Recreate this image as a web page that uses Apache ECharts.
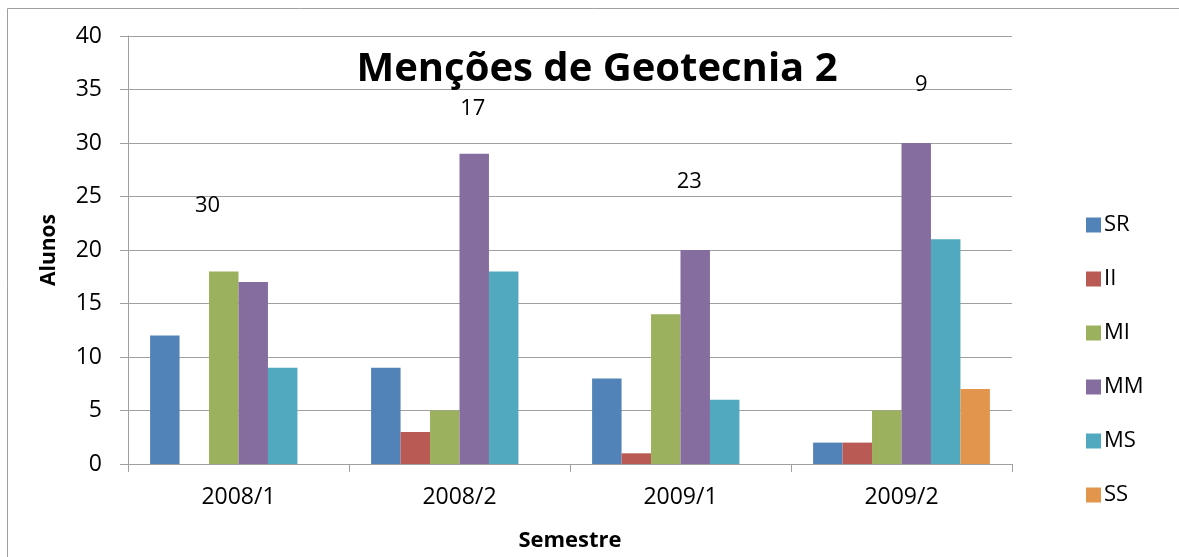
<!DOCTYPE html>
<html><head><meta charset="utf-8">
<script src="https://cdn.jsdelivr.net/npm/echarts@6/dist/echarts.min.js"></script>
<style>html,body{margin:0;padding:0;background:#fff}#c{width:1179px;height:557px}</style>
</head><body><div id="c"></div>
<script>
const categories = ['2008/1', '2008/2', '2009/1', '2009/2'];
const seriesNames = ['SR', 'II', 'MI', 'MM', 'MS', 'SS'];
const SR = [12, 9, 8, 2];
const II = [0, 3, 1, 2];
const MI = [18, 5, 14, 5];
const MM = [17, 29, 20, 30];
const MS = [9, 18, 6, 21];
const SS = [0, 0, 0, 7];
const colors = ['#5283B8', '#BA5A55', '#9BB15D', '#866D9F', '#51A9C0', '#E2964D'];
// floating annotation labels: [x position in category units, y value, text]
const noteX = [0.36, 1.56, 2.54, 3.59];
const noteY = [24.1, 33.2, 26.4, 35.4];
const noteText = ['30', '17', '23', '9'];
const yTicks = [0, 40, 5];

const FONT = '"Open Sans", sans-serif';
const values = [SR, II, MI, MM, MS, SS];
const chart = echarts.init(document.getElementById('c'), null, {renderer: 'canvas'});
const barSeries = seriesNames.map((n, i) => ({
  name: n, type: 'bar', data: values[i], barGap: '0%', barCategoryGap: '20%',
  itemStyle: {color: colors[i]}, xAxisIndex: 0, yAxisIndex: 0
}));
chart.setOption({
  animation: false,
  textStyle: {fontFamily: FONT},
  title: {
    text: 'Menções de Geotecnia 2', left: 592, top: 45, textAlign: 'center',
    textStyle: {fontFamily: FONT, fontWeight: 'bold', fontSize: 40, color: '#000'}
  },
  graphic: [
    {type: 'line', shape: {x1: 7.5, y1: 8.5, x2: 1179, y2: 8.5}, style: {stroke: '#A0A0A0', lineWidth: 1}},
    {type: 'line', shape: {x1: 7.5, y1: 8.5, x2: 7.5, y2: 557}, style: {stroke: '#A0A0A0', lineWidth: 1}}
  ],
  legend: {
    orient: 'vertical', left: 1081, top: 208,
    data: seriesNames, itemWidth: 15, itemHeight: 15, itemGap: 30,
    icon: 'rect',
    textStyle: {fontFamily: FONT, fontSize: 22, color: '#000', lineHeight: 24, padding: [0, 0, 0, -2]}
  },
  grid: {left: 128, right: 167, top: 36, bottom: 93, containLabel: false},
  xAxis: [{
    type: 'category', data: categories,
    name: 'Semestre', nameLocation: 'middle', nameGap: 66,
    nameTextStyle: {fontFamily: FONT, fontWeight: 'bold', fontSize: 22, color: '#000'},
    axisLine: {lineStyle: {color: '#A0A0A0', width: 1}},
    axisTick: {show: true, length: 8, alignWithLabel: false, lineStyle: {color: '#A0A0A0'}},
    axisLabel: {fontFamily: FONT, fontSize: 23, color: '#000', margin: 22}
  }, {
    type: 'value', min: 0, max: 4, show: false
  }],
  yAxis: {
    type: 'value', min: yTicks[0], max: yTicks[1], interval: yTicks[2],
    name: 'Alunos', nameLocation: 'middle', nameGap: 68, nameRotate: 90,
    nameTextStyle: {fontFamily: FONT, fontWeight: 'bold', fontSize: 21, color: '#000'},
    axisLine: {show: true, lineStyle: {color: '#A0A0A0', width: 1}},
    axisTick: {show: true, length: 8, lineStyle: {color: '#A0A0A0'}},
    splitLine: {lineStyle: {color: '#A0A0A0', width: 1}},
    axisLabel: {fontFamily: FONT, fontSize: 23, color: '#000', margin: 26}
  },
  series: barSeries.concat([{
    type: 'scatter', xAxisIndex: 1, yAxisIndex: 0, symbolSize: 1,
    itemStyle: {color: 'rgba(0,0,0,0)', opacity: 1}, silent: true,
    data: noteX.map((x, i) => ({value: [x, noteY[i]], label: {formatter: noteText[i]}})),
    label: {show: true, position: 'inside', fontFamily: FONT, fontSize: 22, color: '#000', textBorderWidth: 0}
  }])
});
</script></body></html>
